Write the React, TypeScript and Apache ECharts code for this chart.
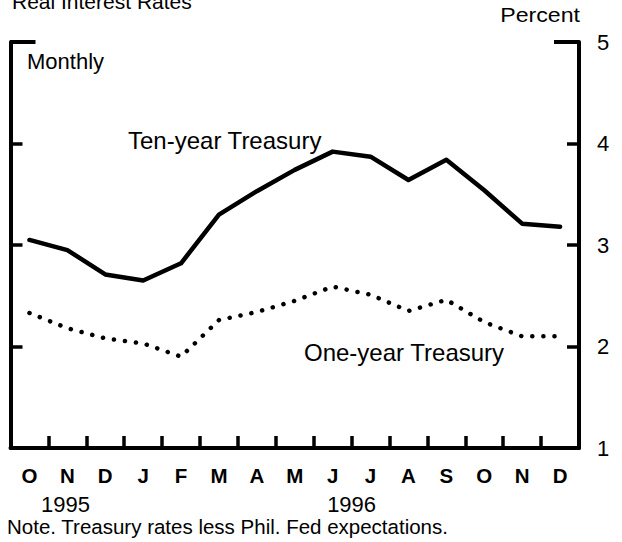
import React, { useEffect, useRef } from "react";
import * as echarts from "echarts";

const months = ["O", "N", "D", "J", "F", "M", "A", "M", "J", "J", "A", "S", "O", "N", "D"];
const tenYear = [3.05, 2.95, 2.71, 2.65, 2.82, 3.3, 3.53, 3.74, 3.92, 3.87, 3.64, 3.84, 3.54, 3.21, 3.18];
const oneYear = [2.33, 2.18, 2.08, 2.03, 1.9, 2.26, 2.34, 2.45, 2.59, 2.51, 2.35, 2.46, 2.24, 2.1, 2.1];
const yMin = 1;
const yMax = 5;
const yStep = 1;
// year captions, placed under the month position given as a (fractional) category index
const yearLabels = [
  { text: "1995", at: 0.95 },
  { text: "1996", at: 8.5 },
];

const FONT = "Liberation Sans, Arial, Helvetica, sans-serif";

export default function App() {
  const ref = useRef<HTMLDivElement>(null);

  useEffect(() => {
    if (!ref.current) return;
    const chart = echarts.init(ref.current, undefined, { renderer: "svg" });
    const gridLeft = 10.5;
    const gridRight = 43;
    const gridTop = 42;
    const gridBottom = 94;
    const W = 622;
    const plotW = W - gridLeft - gridRight;
    const catW = plotW / months.length;

    const axisCommon = {
      type: "value" as const,
      min: yMin,
      max: yMax,
      interval: yStep,
      splitLine: { show: false },
      axisLine: { show: true, lineStyle: { color: "#000", width: 4 } },
      axisTick: { show: true, inside: true, length: 12, lineStyle: { color: "#000", width: 3.5 } },
    };

    const txt = (
      text: string,
      x: number,
      y: number,
      size: number,
      align = "left",
      scaleX = 1,
      weight = "normal"
    ) => ({
      type: "text",
      x,
      y,
      scaleX,
      silent: true,
      style: {
        text,
        fill: "#000",
        font: `${weight} ${size}px ${FONT}`,
        align,
        verticalAlign: "middle",
      },
    });

    chart.setOption({
      animation: false,
      backgroundColor: "#fff",
      grid: { left: gridLeft, right: gridRight, top: gridTop, bottom: gridBottom, containLabel: false },
      xAxis: {
        type: "category",
        data: months,
        boundaryGap: true,
        axisLine: { show: true, lineStyle: { color: "#000", width: 4 } },
        axisTick: { show: true, inside: true, length: 12, interval: 0, lineStyle: { color: "#000", width: 3.5 } },
        axisLabel: { color: "#000", fontSize: 20.5, fontWeight: "bold", fontFamily: FONT, margin: 17, interval: 0 },
        splitLine: { show: false },
      },
      yAxis: [
        { ...axisCommon, position: "left", axisLabel: { show: false } },
        {
          ...axisCommon,
          position: "right",
          axisLabel: { show: true, color: "#000", fontSize: 22, fontFamily: FONT, margin: 18 },
        },
      ],
      series: [
        {
          name: "Ten-year Treasury",
          type: "line",
          data: tenYear,
          yAxisIndex: 0,
          symbol: "none",
          lineStyle: { color: "#000", width: 4.5, join: "round", cap: "round" },
        },
        {
          name: "One-year Treasury",
          type: "line",
          data: oneYear,
          yAxisIndex: 0,
          symbol: "none",
          lineStyle: { color: "#000", width: 4.5, type: [0.1, 11], cap: "round", join: "round" },
        },
      ],
      graphic: [
        {
          type: "line",
          silent: true,
          shape: { x1: gridLeft, y1: gridTop, x2: gridLeft + 25, y2: gridTop },
          style: { stroke: "#000", lineWidth: 4 },
        },
        {
          type: "line",
          silent: true,
          shape: { x1: W - gridRight - 25, y1: gridTop, x2: W - gridRight, y2: gridTop },
          style: { stroke: "#000", lineWidth: 4 },
        },
        txt("Real Interest Rates", 12, 1, 21),
        txt("Percent", 580, 15, 20.5, "right", 1.13),
        txt("Monthly", 27, 61, 22),
        txt("Ten-year Treasury", 128, 140, 24),
        txt("One-year Treasury", 304, 352, 24),
        ...yearLabels.map((y) => txt(y.text, gridLeft + catW * (y.at + 0.5), 504, 22, "center")),
        txt("Note. Treasury rates less Phil. Fed expectations.", 7, 526, 20.5),
      ],
    });
    return () => chart.dispose();
  }, []);

  return <div ref={ref} style={{ position: "absolute", left: 0, top: 0, width: 622, height: 542 }} />;
}
